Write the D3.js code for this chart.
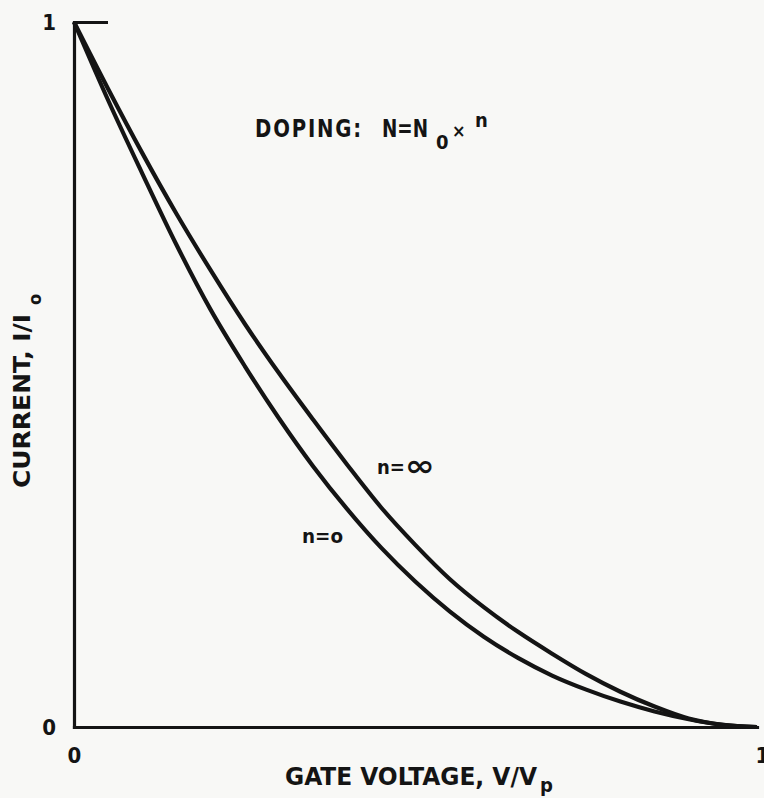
<!DOCTYPE html>
<html>
<head>
<meta charset="utf-8">
<script src="https://cdn.jsdelivr.net/npm/d3@7"></script>
<style>
  html, body { margin: 0; padding: 0; background: #f8f8f6; }
  svg { display: block; }
  text { font-family: "Liberation Sans Narrow", "DejaVu Sans Condensed", "Roboto Condensed", sans-serif; font-weight: bold; fill: #141414; }
</style>
</head>
<body>
<svg id="chart" width="764" height="798"></svg>
<script>
// Normalised gate voltage V/Vp (shared sampling for both curves)
const voltage = [0, 0.05, 0.10, 0.15, 0.20, 0.25, 0.30, 0.35, 0.40, 0.45, 0.50,
                 0.55, 0.60, 0.65, 0.70, 0.75, 0.80, 0.85, 0.90, 0.95, 1.0];
// Normalised current I/I0, uniform doping (n = 0)
const currentN0 = [1.0, 0.889, 0.785, 0.684, 0.592, 0.512, 0.438, 0.370, 0.309, 0.254, 0.206,
                   0.164, 0.128, 0.098, 0.073, 0.053, 0.036, 0.022, 0.011, 0.003, 0.0];
// Normalised current I/I0, n = infinity
const currentInf = [1.0, 0.905, 0.814, 0.728, 0.648, 0.572, 0.502, 0.436, 0.372, 0.311, 0.258,
                    0.210, 0.170, 0.135, 0.104, 0.075, 0.050, 0.029, 0.012, 0.003, 0.0];

const xTicks = [0, 1];
const yTicks = [0, 1];

const svg = d3.select("#chart");

const x = d3.scaleLinear().domain([0, 1]).range([74, 757]);
const y = d3.scaleLinear().domain([0, 1]).range([727, 22]);

// Axes
const yAxis = d3.axisLeft(y).tickValues(yTicks).tickFormat(d3.format("d"))
  .tickSizeInner(-34).tickSizeOuter(0).tickPadding(18);
const gy = svg.append("g").attr("transform", "translate(74,0)").call(yAxis);

const xAxis = d3.axisBottom(x).tickValues(xTicks).tickFormat(d3.format("d"))
  .tickSizeInner(0).tickSizeOuter(0).tickPadding(20);
const gx = svg.append("g").attr("transform", "translate(0,727)").call(xAxis);

[gx, gy].forEach(g => {
  g.select(".domain").attr("stroke", "#141414").attr("stroke-width", 3.2).attr("stroke-linecap", "square");
  g.selectAll(".tick line").attr("stroke", "#141414").attr("stroke-width", 3.2);
  g.selectAll(".tick text").style("font-size", "22px").attr("fill", "#141414");
});
gy.selectAll(".tick text").attr("dy", "0.36em");
gx.selectAll(".tick text").filter(d => d === 1).attr("dx", 5);

// Curves
const line = d3.line().x(d => x(d[0])).y(d => y(d[1])).curve(d3.curveMonotoneX);
const series = [
  d3.zip(voltage, currentN0),
  d3.zip(voltage, currentInf)
];
svg.selectAll("path.curve").data(series).join("path")
  .attr("class", "curve")
  .attr("d", line)
  .attr("fill", "none")
  .attr("stroke", "#141414")
  .attr("stroke-width", 4.2)
  .attr("stroke-linejoin", "round");

// Doping annotation
const t = svg.append("g");
t.append("text").attr("x", 255).attr("y", 137).style("font-size", "24px")
  .attr("textLength", 108).attr("lengthAdjust", "spacingAndGlyphs").style("letter-spacing", "2px").text("DOPING:");
t.append("text").attr("x", 382).attr("y", 137).style("font-size", "24px")
  .attr("textLength", 46).attr("lengthAdjust", "spacingAndGlyphs").text("N=N");
t.append("text").attr("x", 436).attr("y", 149).style("font-size", "20px").text("0");
t.append("text").attr("x", 452).attr("y", 137).style("font-size", "18px").text("×");
t.append("text").attr("x", 475).attr("y", 127).style("font-size", "20px").text("n");

// Curve labels
svg.append("text").attr("x", 377).attr("y", 474).style("font-size", "20px").text("n=");
svg.append("text").attr("x", 405).attr("y", 476).style("font-size", "30px")
  .attr("textLength", 30).attr("lengthAdjust", "spacingAndGlyphs").text("∞");
svg.append("text").attr("x", 302).attr("y", 543).style("font-size", "20px")
  .attr("textLength", 41).attr("lengthAdjust", "spacingAndGlyphs").text("n=o");

// Axis titles
svg.append("text").attr("x", 285).attr("y", 785).style("font-size", "24px")
  .attr("textLength", 252).attr("lengthAdjust", "spacingAndGlyphs").text("GATE VOLTAGE,  V/V");
svg.append("text").attr("x", 540).attr("y", 792).style("font-size", "20px").text("p");

svg.append("text").attr("transform", "translate(30,488) rotate(-90)").style("font-size", "23px")
  .attr("textLength", 174).attr("lengthAdjust", "spacingAndGlyphs").text("CURRENT,  I/I");
svg.append("text").attr("transform", "translate(41,305) rotate(-90)").style("font-size", "18px").text("o");
</script>
</body>
</html>
